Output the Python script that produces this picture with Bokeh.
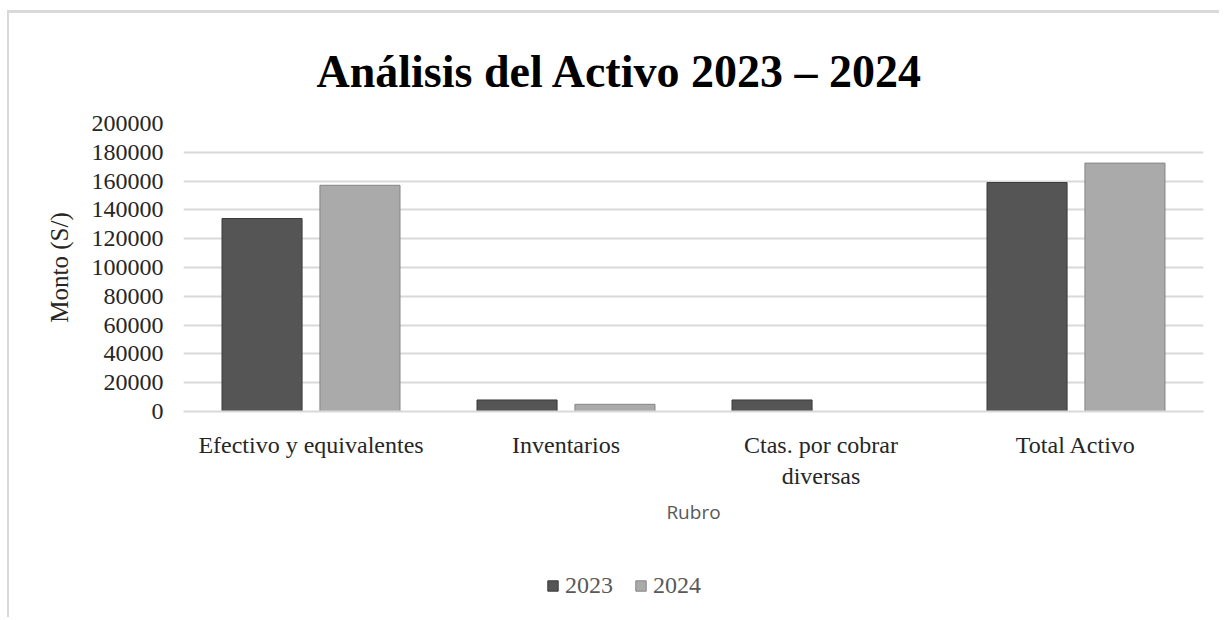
from bokeh.plotting import figure
from bokeh.models import FactorRange, ColumnDataSource, Legend, LegendItem, FixedTicker, NumeralTickFormatter, Range1d
from bokeh.layouts import column
from bokeh.transform import dodge
from bokeh.embed import file_html
from bokeh.resources import INLINE

categories = ["Efectivo y equivalentes", "Inventarios", "Ctas. por cobrar\ndiversas", "Total Activo"]
series_names = ["2023", "2024"]
values_2023 = [134000, 8000, 8000, 159000]
values_2024 = [157100, 5000, 0, 172500]
y_ticks = [0, 20000, 40000, 60000, 80000, 100000, 120000, 140000, 160000, 180000, 200000]

SERIF = "Liberation Serif"
C2023, L2023 = "#555555", "#3a3a3a"
C2024, L2024 = "#aaaaaa", "#858585"

src = ColumnDataSource(dict(cat=categories, v2023=values_2023, v2024=values_2024))

p = figure(
    x_range=FactorRange(factors=categories, range_padding=0),
    y_range=(0, 200000),
    width=1210, height=560,
    output_backend="svg", toolbar_location=None,
    min_border_left=174, min_border_right=16, min_border_top=110, min_border_bottom=162,
    title="Análisis del Activo 2023 – 2024",
)
p.outline_line_color = None
p.background_fill_color = "white"
p.border_fill_color = "white"

p.title.text_font = SERIF
p.title.text_font_size = "46px"
p.title.text_font_style = "bold"
p.title.text_color = "#000000"
p.title.align = "left"
p.title.offset = 133
p.title.standoff = 53

p.vbar(x=dodge("cat", -0.192, range=p.x_range), top="v2023", width=0.314, source=src,
       fill_color=C2023, line_color=L2023, line_width=1)
p.vbar(x=dodge("cat", 0.192, range=p.x_range), top="v2024", width=0.314, source=src,
       fill_color=C2024, line_color=L2024, line_width=1)

# axes
p.yaxis.ticker = FixedTicker(ticks=y_ticks)
p.yaxis.formatter = NumeralTickFormatter(format="0")
p.yaxis.axis_line_color = None
p.yaxis.major_tick_line_color = None
p.yaxis.minor_tick_line_color = None
p.yaxis.major_label_text_font = SERIF
p.yaxis.major_label_text_font_size = "24px"
p.yaxis.major_label_text_color = "#262626"
p.yaxis.major_label_standoff = 14
p.yaxis.axis_label = "Monto (S/)"
p.yaxis.axis_label_text_font = SERIF
p.yaxis.axis_label_text_font_size = "25px"
p.yaxis.axis_label_text_font_style = "normal"
p.yaxis.axis_label_text_color = "#262626"
p.yaxis.axis_label_standoff = 16

p.xaxis.axis_line_color = "#d9d9d9"
p.xaxis.axis_line_width = 2
p.xaxis.major_tick_line_color = None
p.xaxis.minor_tick_line_color = None
p.xaxis.major_label_text_font = SERIF
p.xaxis.major_label_text_font_size = "24px"
p.xaxis.major_label_text_color = "#262626"
p.xaxis.major_label_text_line_height = 1.22
p.xaxis.major_label_standoff = 14
p.xaxis.axis_label = "Rubro"
p.xaxis.axis_label_text_font = "Open Sans"
p.xaxis.axis_label_text_font_size = "19px"
p.xaxis.axis_label_text_font_style = "normal"
p.xaxis.axis_label_text_color = "#595959"
p.xaxis.axis_label_standoff = 7

p.xgrid.grid_line_color = None
p.ygrid.grid_line_color = "#d9d9d9"
p.ygrid.grid_line_width = 2

# legend strip below the chart (its renderers are hidden; they only supply legend glyphs)
lf = figure(width=1210, height=44, output_backend="svg", toolbar_location=None,
            x_axis_type=None, y_axis_type=None, x_range=p.x_range, y_range=Range1d(-2, -1),
            min_border=0)
lf.outline_line_color = None
lf.xgrid.grid_line_color = None
lf.ygrid.grid_line_color = None
lr1 = lf.vbar(x=dodge("cat", -0.192, range=lf.x_range), top="v2023", width=0.314, source=src,
              fill_color=C2023, line_color=L2023, visible=False)
lr2 = lf.vbar(x=dodge("cat", 0.192, range=lf.x_range), top="v2024", width=0.314, source=src,
              fill_color=C2024, line_color=L2024, visible=False)
legend = Legend(
    items=[LegendItem(label=series_names[0], renderers=[lr1]),
           LegendItem(label=series_names[1], renderers=[lr2])],
    orientation="horizontal",
    location=(363, 18),
    padding=0, margin=0, spacing=21,
    glyph_width=13, glyph_height=13, label_standoff=6,
    label_text_font=SERIF, label_text_font_size="24px", label_text_color="#595959",
    border_line_color=None, background_fill_alpha=0,
)
lf.add_layout(legend, "center")

layout = column(p, lf, spacing=0)
layout.styles = {"border-top": "3px solid #d9d9d9", "border-left": "2px solid #d9d9d9",
                 "margin-top": "10px", "margin-left": "7px"}

open("out.html", "w").write(file_html(layout, INLINE))
